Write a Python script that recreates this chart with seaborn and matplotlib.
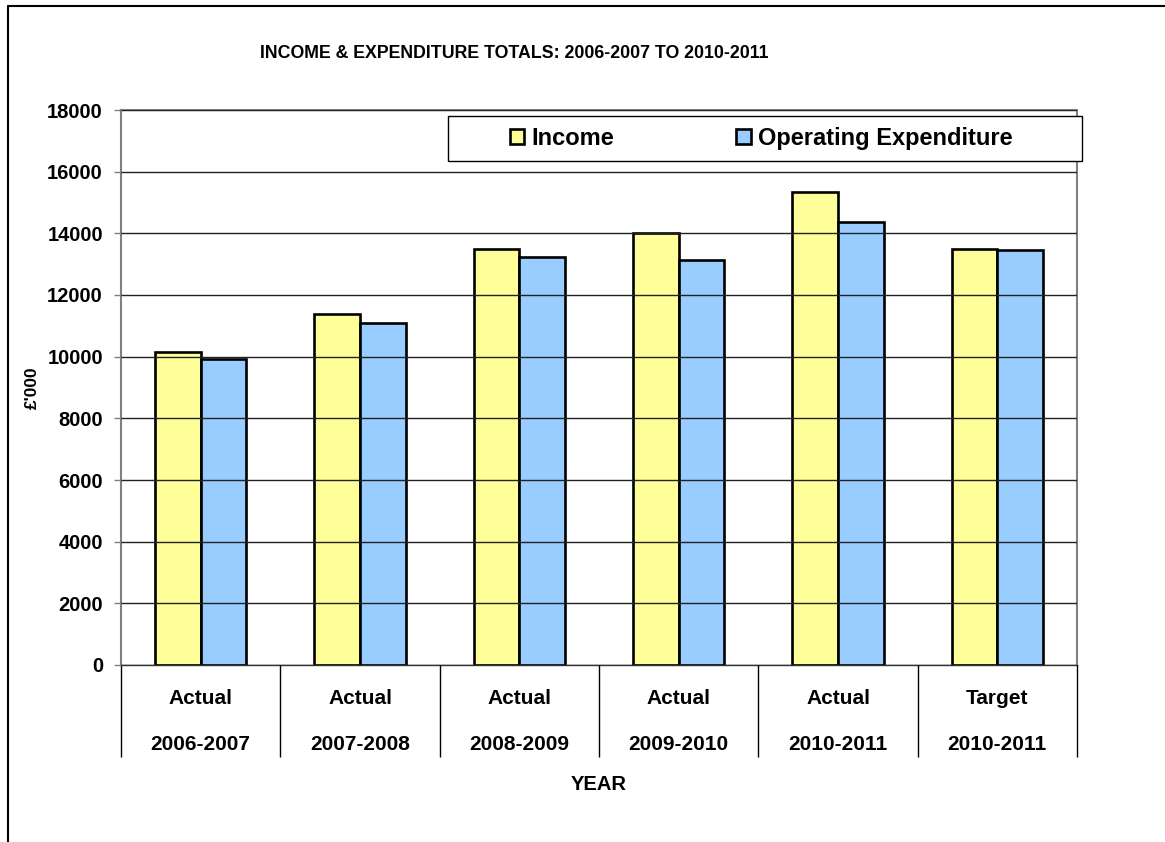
import matplotlib
matplotlib.use("Agg")
import matplotlib.pyplot as plt
import seaborn as sns
import pandas as pd
from matplotlib.patches import Rectangle
from matplotlib.lines import Line2D

# ---- data ----
status = ["Actual", "Actual", "Actual", "Actual", "Actual", "Target"]
years = ["2006-2007", "2007-2008", "2008-2009", "2009-2010", "2010-2011", "2010-2011"]
income = [10140, 11380, 13490, 14000, 15330, 13490]
expenditure = [9920, 11080, 13240, 13140, 14360, 13450]
series_names = ["Income", "Operating Expenditure"]
y_ticks = [0, 2000, 4000, 6000, 8000, 10000, 12000, 14000, 16000, 18000]

categories = [f"{s}\n{y}" for s, y in zip(status, years)]
df = pd.DataFrame({
    "Category": categories * 2,
    "Series": [series_names[0]] * len(categories) + [series_names[1]] * len(categories),
    "Value": income + expenditure,
})

sns.set_style("white")
plt.rcParams["font.family"] = ["Liberation Sans", "DejaVu Sans"]
plt.rcParams["font.weight"] = "bold"
plt.rcParams["text.color"] = "black"
plt.rcParams["axes.labelcolor"] = "black"
plt.rcParams["xtick.color"] = "black"
plt.rcParams["ytick.color"] = "black"

fig = plt.figure(figsize=(11.65, 8.42), dpi=100)
ax = fig.add_axes([121 / 1165, 1 - 665 / 842, (1077 - 121) / 1165, (665 - 110) / 842])

palette = {series_names[0]: "#FFFF99", series_names[1]: "#99CCFF"}
sns.barplot(data=df, x="Category", y="Value", hue="Series", palette=palette,
            order=categories, hue_order=series_names, width=0.574, gap=0,
            edgecolor="black", linewidth=1.9, saturation=1, ax=ax, legend=True)

ax.set_xlim(-0.5, len(categories) - 0.5)
ax.set_ylim(0, 18000)
ax.set_yticks(y_ticks)
ax.set_yticklabels([str(v) for v in y_ticks], fontsize=14.5, fontweight="bold", color="black")
ax.tick_params(axis="y", direction="out", length=5, width=1, color="#808080", labelcolor="black",
               pad=8, left=True)

# x tick labels (two lines) and category separators
ax.set_xticks(range(len(categories)))
ax.set_xticklabels(categories, fontsize=15, fontweight="bold", linespacing=2.8, color="black")
ax.tick_params(axis="x", which="major", length=0, pad=17, labelcolor="black")
ax.set_xticks([i - 0.5 for i in range(len(categories) + 1)], minor=True)
ax.tick_params(axis="x", which="minor", direction="out", length=66, width=1, color="black", bottom=True)

ax.set_xlabel("YEAR", fontsize=14.5, fontweight="bold", labelpad=0, color="black")
ax.xaxis.set_label_coords(0.5, -(775 - 665) / 555)
ax.set_ylabel("£'000", fontsize=12.5, fontweight="bold", color="black")
ax.yaxis.set_label_coords(-(121 - 40) / 956, 0.5)

# grid on top of bars
ax.set_axisbelow(False)
ax.yaxis.grid(True, color="#222222", linewidth=1.0)
ax.xaxis.grid(False)

for side in ["left", "right", "top"]:
    ax.spines[side].set_color("#808080")
    ax.spines[side].set_linewidth(1.5)
ax.spines["bottom"].set_color("#333333")
ax.spines["bottom"].set_linewidth(1.0)

# legend
h, l = ax.get_legend_handles_labels()
leg = ax.legend(h, l, ncol=2, loc="center", bbox_to_anchor=((761 - 121) / 956, (665 - 138.5) / 555),
                frameon=False, handlelength=0.6, handleheight=0.6,
                handletextpad=0.3, columnspacing=5.2, prop={"weight": "bold", "size": 17},
                labelcolor="black")
leg.set_zorder(6)
box = Rectangle(((448 - 121) / 956, (665 - 161) / 555), (1082 - 448) / 956, (161 - 116) / 555,
                transform=ax.transAxes, facecolor="white", edgecolor="black", linewidth=1.0,
                zorder=5, clip_on=False)
ax.add_patch(box)

# title
fig.text(514 / 1165, 1 - 53 / 842, "INCOME & EXPENDITURE TOTALS: 2006-2007 TO 2010-2011",
         ha="center", va="center", fontsize=12.8, fontweight="bold", color="black")

# outer chart frame (top and left edges visible)
fig.add_artist(Line2D([8 / 1165, 1.0], [1 - 6 / 842, 1 - 6 / 842], transform=fig.transFigure,
                      color="black", linewidth=1.5))
fig.add_artist(Line2D([8 / 1165, 8 / 1165], [1 - 6 / 842, 0.0], transform=fig.transFigure,
                      color="black", linewidth=1.5))

fig.savefig("out.png", dpi=100)
